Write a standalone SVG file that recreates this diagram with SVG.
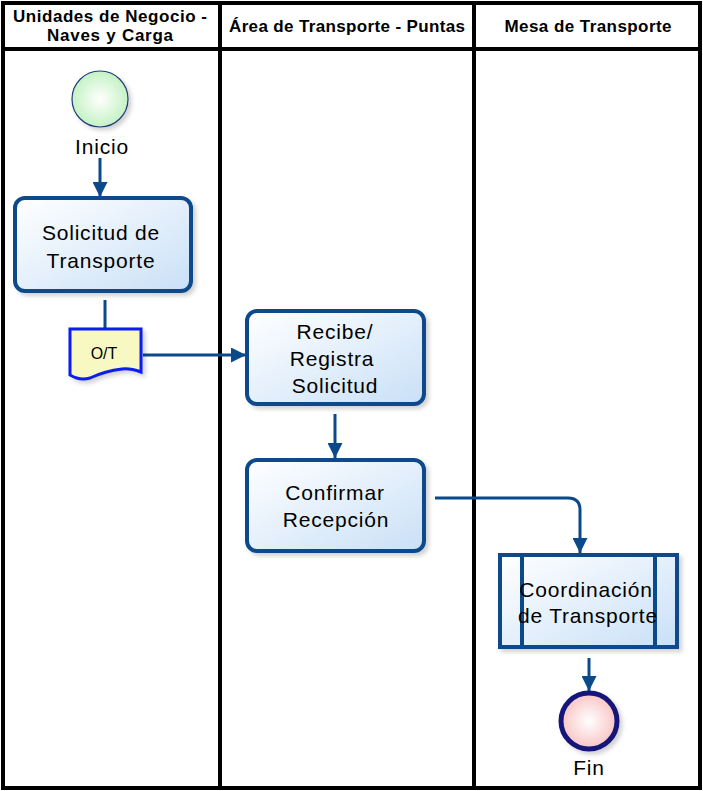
<svg xmlns="http://www.w3.org/2000/svg" width="703" height="791" viewBox="0 0 703 791">
  <defs>
    <linearGradient id="taskFill" x1="0" y1="0" x2="1" y2="1">
      <stop offset="0" stop-color="#ffffff"/>
      <stop offset="1" stop-color="#c9e0f7"/>
    </linearGradient>
    <radialGradient id="startFill" cx="0.5" cy="0.5" r="0.5">
      <stop offset="0" stop-color="#ffffff"/>
      <stop offset="1" stop-color="#c4f2c4"/>
    </radialGradient>
    <radialGradient id="endFill" cx="0.5" cy="0.5" r="0.5">
      <stop offset="0" stop-color="#ffffff"/>
      <stop offset="1" stop-color="#f9c4c4"/>
    </radialGradient>
    <filter id="shadow" x="-10%" y="-10%" width="130%" height="130%">
      <feDropShadow dx="3" dy="3" stdDeviation="2" flood-color="#000" flood-opacity="0.18"/>
    </filter>
    <marker id="arrow" viewBox="0 0 10 10" refX="10" refY="5" markerWidth="15" markerHeight="15" markerUnits="userSpaceOnUse" orient="auto">
      <path d="M0,0 L10,5 L0,10 z" fill="#0a4a8b"/>
    </marker>
  </defs>
  <style>
    .lane { fill: #ffffff; stroke: #000000; stroke-width: 4; }
    .hdr { font-family: "Liberation Sans", Arial, sans-serif; font-weight: bold; font-size: 17px; fill: #000; text-anchor: middle; }
    .task { fill: url(#taskFill); stroke: #0a4a8b; stroke-width: 4; filter: url(#shadow); }
    .lbl { font-family: "Liberation Sans", Arial, sans-serif; font-size: 21px; letter-spacing: 0.8px; fill: #000; text-anchor: middle; }
    .conn { fill: none; stroke: #0a4a8b; stroke-width: 3; }
  </style>

  <rect width="703" height="791" fill="#ffffff"/>

  <!-- swimlanes -->
  <g id="lanes">
    <rect class="lane" x="3" y="3" width="697" height="785"/>
    <line class="lane" x1="3" y1="49" x2="700" y2="49"/>
    <line class="lane" x1="220" y1="3" x2="220" y2="788"/>
    <line class="lane" x1="474" y1="3" x2="474" y2="788"/>
    <text class="hdr" x="110" y="22" textLength="194" lengthAdjust="spacing">Unidades de Negocio -</text>
    <text class="hdr" x="110" y="41" textLength="126" lengthAdjust="spacing">Naves y Carga</text>
    <text class="hdr" x="347" y="32" textLength="236" lengthAdjust="spacing">Área de Transporte - Puntas</text>
    <text class="hdr" x="588" y="32" textLength="167" lengthAdjust="spacing">Mesa de Transporte</text>
  </g>

  <!-- connectors -->
  <g id="connectors">
    <line class="conn" x1="100" y1="158" x2="100" y2="197" marker-end="url(#arrow)"/>
    <line class="conn" x1="105" y1="300" x2="105" y2="329"/>
    <line class="conn" x1="143" y1="355" x2="246" y2="355" marker-end="url(#arrow)"/>
    <line class="conn" x1="335" y1="414" x2="335" y2="458" marker-end="url(#arrow)"/>
    <path class="conn" d="M435,498 H568 Q580,498 580,510 V553" marker-end="url(#arrow)"/>
    <line class="conn" x1="589" y1="658" x2="589" y2="691" marker-end="url(#arrow)"/>
  </g>

  <g id="inicio">
    <circle cx="100" cy="99" r="28" fill="url(#startFill)" stroke="#1f3a7a" stroke-width="1.2" filter="url(#shadow)"/>
    <text class="lbl" x="102" y="154">Inicio</text>
  </g>

  <g id="solicitud">
    <rect class="task" x="15" y="198" width="176" height="93" rx="10"/>
    <text class="lbl" x="101" y="240">Solicitud de</text>
    <text class="lbl" x="101" y="268">Transporte</text>
  </g>

  <g id="ot">
    <path d="M70,329 H141 V372 Q130,368 122,369 Q105,371 90,378 Q80,381 70,375 z" fill="#f8f8c2" stroke="#0a1cf0" stroke-width="3" filter="url(#shadow)"/>
    <text x="104" y="359" font-family="Liberation Sans, Arial, sans-serif" font-size="16" text-anchor="middle" fill="#000">O/T</text>
  </g>

  <g id="recibe">
    <rect class="task" x="247" y="311" width="177" height="93" rx="10"/>
    <text class="lbl" x="335" y="339">Recibe/</text>
    <text class="lbl" x="332" y="366">Registra</text>
    <text class="lbl" x="335" y="393">Solicitud</text>
  </g>

  <g id="confirmar">
    <rect class="task" x="247" y="460" width="177" height="91" rx="10"/>
    <text class="lbl" x="335" y="500">Confirmar</text>
    <text class="lbl" x="336" y="527">Recepción</text>
  </g>

  <g id="coordinacion">
    <rect class="task" x="500" y="555" width="177" height="92" stroke-width="3.5"/>
    <line x1="522" y1="555" x2="522" y2="647" stroke="#0a4a8b" stroke-width="4"/>
    <line x1="655" y1="555" x2="655" y2="647" stroke="#0a4a8b" stroke-width="4"/>
    <text class="lbl" x="586" y="597">Coordinación</text>
    <text class="lbl" x="588" y="623">de Transporte</text>
  </g>

  <g id="fin">
    <circle cx="589" cy="721" r="28" fill="url(#endFill)" stroke="#14197a" stroke-width="5" filter="url(#shadow)"/>
    <text class="lbl" x="589" y="775">Fin</text>
  </g>
</svg>
